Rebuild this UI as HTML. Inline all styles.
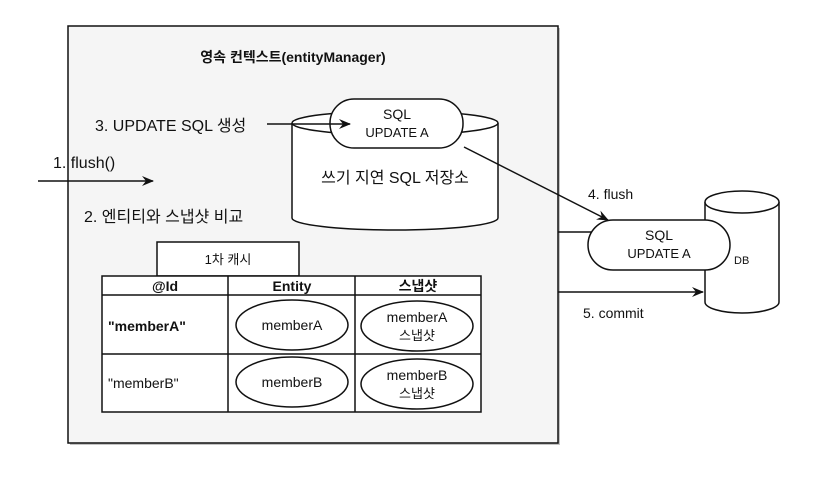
<!DOCTYPE html>
<html><head><meta charset="utf-8"><style>
html,body{margin:0;padding:0;background:#fff;}
svg text{font-family:"Liberation Sans","Noto Sans CJK KR",sans-serif;fill:#111;}
</style></head><body>
<svg width="816" height="496" viewBox="0 0 816 496" xmlns="http://www.w3.org/2000/svg">
<defs>
<marker id="ar" markerWidth="12" markerHeight="10" refX="11" refY="5" orient="auto" markerUnits="userSpaceOnUse">
<path d="M0,0 L12,5 L0,10 L4,5 Z" fill="#111"/></marker>
</defs>
<rect x="70" y="28" width="490" height="417" fill="#888" opacity="0.5"/>
<rect x="68" y="26" width="490" height="417" fill="#f5f5f5" stroke="#111" stroke-width="1.5"/>
<text x="293" y="62" font-size="14" font-weight="bold" text-anchor="middle">영속 컨텍스트(entityManager)</text>

<!-- write-behind store cylinder -->
<path d="M292,123 L292,218 A103,12 0 0 0 498,218 L498,123" fill="#fff" stroke="#111" stroke-width="1.5"/>
<ellipse cx="395" cy="123" rx="103" ry="12" fill="#fff" stroke="#111" stroke-width="1.5"/>
<text x="395" y="183" font-size="16" text-anchor="middle">쓰기 지연 SQL 저장소</text>
<rect x="330" y="99" width="133" height="49" rx="24" fill="#fff" stroke="#111" stroke-width="1.5"/>
<text x="397" y="119" font-size="14" text-anchor="middle">SQL</text>
<text x="397" y="137" font-size="13" text-anchor="middle">UPDATE A</text>

<text x="95" y="131" font-size="16">3. UPDATE SQL 생성</text>
<line x1="267" y1="124" x2="350" y2="124" stroke="#111" stroke-width="1.5" marker-end="url(#ar)"/>
<text x="53" y="168" font-size="16">1. flush()</text>
<line x1="38" y1="181" x2="153" y2="181" stroke="#111" stroke-width="1.5" marker-end="url(#ar)"/>
<text x="84" y="222" font-size="16">2. 엔티티와 스냅샷 비교</text>

<!-- cache -->
<rect x="157" y="242" width="142" height="34" fill="#fff" stroke="#111" stroke-width="1.5"/>
<text x="228" y="264" font-size="13" text-anchor="middle">1차 캐시</text>
<rect x="102" y="276" width="379" height="136" fill="#fff" stroke="#111" stroke-width="1.5"/>
<line x1="102" y1="295" x2="481" y2="295" stroke="#111" stroke-width="1.5"/>
<line x1="102" y1="354" x2="481" y2="354" stroke="#111" stroke-width="1.5"/>
<line x1="228" y1="276" x2="228" y2="412" stroke="#111" stroke-width="1.5"/>
<line x1="355" y1="276" x2="355" y2="412" stroke="#111" stroke-width="1.5"/>
<text x="165" y="291" font-size="14" font-weight="bold" text-anchor="middle">@Id</text>
<text x="292" y="291" font-size="14" font-weight="bold" text-anchor="middle">Entity</text>
<text x="418" y="291" font-size="14" font-weight="bold" text-anchor="middle">스냅샷</text>
<text x="108" y="331" font-size="14" font-weight="bold">"memberA"</text>
<text x="108" y="388" font-size="14">"memberB"</text>
<ellipse cx="292" cy="325" rx="56" ry="25" fill="#fff" stroke="#111" stroke-width="1.5"/>
<text x="292" y="330" font-size="14" text-anchor="middle">memberA</text>
<ellipse cx="292" cy="382" rx="56" ry="25" fill="#fff" stroke="#111" stroke-width="1.5"/>
<text x="292" y="387" font-size="14" text-anchor="middle">memberB</text>
<ellipse cx="417" cy="326" rx="56" ry="25" fill="#fff" stroke="#111" stroke-width="1.5"/>
<text x="417" y="322" font-size="14" text-anchor="middle">memberA</text>
<text x="417" y="340" font-size="13" text-anchor="middle">스냅샷</text>
<ellipse cx="417" cy="384" rx="56" ry="25" fill="#fff" stroke="#111" stroke-width="1.5"/>
<text x="417" y="380" font-size="14" text-anchor="middle">memberB</text>
<text x="417" y="398" font-size="13" text-anchor="middle">스냅샷</text>

<!-- DB -->
<path d="M705,202 L705,302 A37,11 0 0 0 779,302 L779,202" fill="#fff" stroke="#111" stroke-width="1.5"/>
<ellipse cx="742" cy="202" rx="37" ry="11" fill="#fff" stroke="#111" stroke-width="1.5"/>
<text x="734" y="264" font-size="11">DB</text>
<line x1="558" y1="232" x2="592" y2="232" stroke="#111" stroke-width="1.5"/>
<rect x="588" y="220" width="142" height="50" rx="25" fill="#fff" stroke="#111" stroke-width="1.5"/>
<text x="659" y="240" font-size="14" text-anchor="middle">SQL</text>
<text x="659" y="258" font-size="13" text-anchor="middle">UPDATE A</text>
<line x1="464" y1="147" x2="608" y2="220" stroke="#111" stroke-width="1.5" marker-end="url(#ar)"/>
<text x="588" y="199" font-size="14">4. flush</text>
<line x1="558" y1="292" x2="703" y2="292" stroke="#111" stroke-width="1.5" marker-end="url(#ar)"/>
<text x="583" y="318" font-size="14">5. commit</text>
</svg>
</body></html>
